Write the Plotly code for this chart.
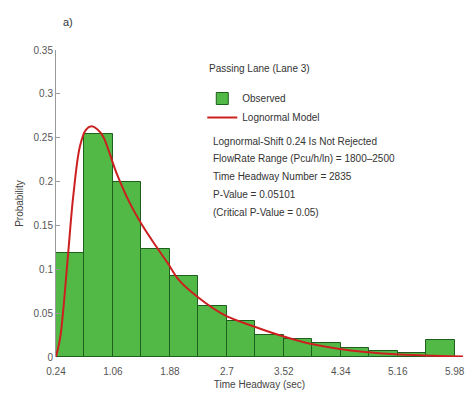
import plotly.graph_objects as go

bin_left = [0.24, 0.65, 1.06, 1.47, 1.88, 2.29, 2.70, 3.11, 3.52, 3.93, 4.34, 4.75, 5.16, 5.57]
observed = [0.1186, 0.254, 0.199, 0.123, 0.092, 0.058, 0.041, 0.025, 0.0205, 0.016, 0.0103, 0.0065, 0.0046, 0.0197]
bin_width = 0.41

model_x = [0.24, 0.30, 0.345, 0.416, 0.488, 0.584, 0.67, 0.751, 0.83, 0.918, 1.11, 1.30, 1.491,
           1.683, 1.849, 2.017, 2.27, 2.661, 3.081, 3.449, 3.90, 4.30, 4.69, 5.12, 5.53, 5.92, 6.10]
model_y = [0.0, 0.022, 0.054, 0.119, 0.183, 0.240, 0.259, 0.263, 0.260, 0.2515, 0.21, 0.176, 0.149,
           0.126, 0.107, 0.087, 0.069, 0.048, 0.035, 0.025, 0.015, 0.0095, 0.0058, 0.0032, 0.0018, 0.0009, 0.0007]

xtick_vals = [0.24, 1.06, 1.88, 2.7, 3.52, 4.34, 5.16, 5.98]
xtick_text = ["0.24", "1.06", "1.88", "2.7", "3.52", "4.34", "5.16", "5.98"]
ytick_vals = [0, 0.05, 0.1, 0.15, 0.2, 0.25, 0.3, 0.35]
ytick_text = ["0", "0.05", "0.1", "0.15", "0.2", "0.25", "0.3", "0.35"]

legend_title = "Passing Lane (Lane 3)"
info_lines = [
    "Lognormal-Shift 0.24 Is Not Rejected",
    "FlowRate Range (Pcu/h/ln) = 1800\u20132500",
    "Time Headway Number = 2835",
    "P-Value = 0.05101",
    "(Critical P-Value = 0.05)",
]

W, H = 467, 395
L, R, T, B = 56, 2, 50, 38
pw, ph = W - L - R, H - T - B

def px_x(px):
    return (px - L) / pw

def px_y(py):
    return (H - B - py) / ph

font = "Liberation Sans, Arial, sans-serif"

fig = go.Figure()
fig.add_trace(go.Bar(
    x=[b + bin_width / 2 for b in bin_left], y=observed, width=bin_width,
    name="Observed",
    marker=dict(color="#52b947", line=dict(color="#1e5e1e", width=1)),
))
fig.add_trace(go.Scatter(
    x=model_x, y=model_y, mode="lines", name="Lognormal Model",
    line=dict(color="#cc2020", width=2, shape="spline"),
))

annotations = [
    dict(text="a)", xref="paper", yref="paper", x=px_x(61), y=px_y(22),
         xanchor="left", yanchor="middle", showarrow=False,
         font=dict(family=font, size=11, color="#333")),
    dict(text=legend_title, xref="paper", yref="paper", x=px_x(208), y=px_y(68),
         xanchor="left", yanchor="middle", showarrow=False,
         font=dict(family=font, size=10, color="#333")),
]
ys = [141, 158, 176, 194, 212]
for t, yy in zip(info_lines, ys):
    annotations.append(dict(text=t, xref="paper", yref="paper", x=px_x(212), y=px_y(yy),
                            xanchor="left", yanchor="middle", showarrow=False,
                            font=dict(family=font, size=10, color="#333")))

fig.update_layout(
    width=W, height=H,
    margin=dict(l=L, r=R, t=T, b=B),
    paper_bgcolor="white", plot_bgcolor="white",
    bargap=0,
    font=dict(family=font, size=10, color="#444"),
    legend=dict(
        x=px_x(203), y=px_y(84), xanchor="left", yanchor="top",
        font=dict(size=10, color="#333"), itemwidth=30,
        bgcolor="rgba(0,0,0,0)", tracegroupgap=0,
    ),
    annotations=annotations,
    xaxis=dict(
        range=[0.24, 6.1], tickvals=xtick_vals, ticktext=xtick_text,
        showgrid=False, zeroline=False, showline=False,
        ticks="outside", ticklen=5, tickcolor="rgba(0,0,0,0)",
        tickfont=dict(size=10, color="#555"),
        title=dict(text="Time Headway (sec)", font=dict(size=10, color="#444"), standoff=4),
    ),
    yaxis=dict(
        range=[0, 0.35], tickvals=ytick_vals, ticktext=ytick_text,
        showgrid=False, zeroline=False, showline=True, linecolor="#999", linewidth=1,
        ticks="inside", ticklen=4, tickcolor="#999",
        tickfont=dict(size=10, color="#555"),
        title=dict(text="Probability", font=dict(size=10, color="#444"), standoff=8),
    ),
)

fig.write_html("out.html")
